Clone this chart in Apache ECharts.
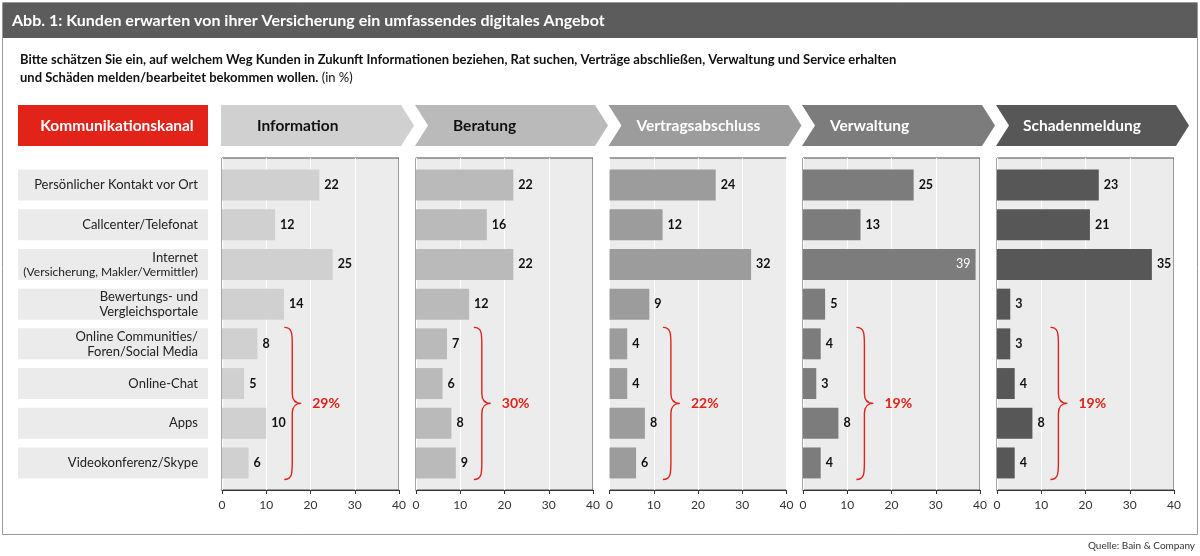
<!DOCTYPE html>
<html>
<head>
<meta charset="utf-8">
<script src="https://cdn.jsdelivr.net/npm/echarts@6/dist/echarts.min.js"></script>
<style>html,body{margin:0;padding:0;background:#fff}#c{width:1200px;height:556px}</style>
</head>
<body>
<div id="c"></div>
<script>
// ---- data ----
const categories = [
  'Persönlicher Kontakt vor Ort',
  'Callcenter/Telefonat',
  'Internet\n(Versicherung, Makler/Vermittler)',
  'Bewertungs- und\nVergleichsportale',
  'Online Communities/\nForen/Social Media',
  'Online-Chat',
  'Apps',
  'Videokonferenz/Skype'
];
const stages = ['Information', 'Beratung', 'Vertragsabschluss', 'Verwaltung', 'Schadenmeldung'];
const information = [22, 12, 25, 14, 8, 5, 10, 6];
const beratung = [22, 16, 22, 12, 7, 6, 8, 9];
const vertragsabschluss = [24, 12, 32, 9, 4, 4, 8, 6];
const verwaltung = [25, 13, 39, 5, 4, 3, 8, 4];
const schadenmeldung = [23, 21, 35, 3, 3, 4, 8, 4];
const digitalShare = [29, 30, 22, 19, 19];   // sum of the four digital channels (rows 5-8)
const headerLabel = 'Kommunikationskanal';
const titleText = 'Abb. 1: Kunden erwarten von ihrer Versicherung ein umfassendes digitales Angebot';
const subtitle1 = 'Bitte schätzen Sie ein, auf welchem Weg Kunden in Zukunft Informationen beziehen, Rat suchen, Verträge abschließen, Verwaltung und Service erhalten';
const subtitle2 = 'und Schäden melden/bearbeitet bekommen wollen.';
const subtitleUnit = '(in %)';
const sourceText = 'Quelle: Bain & Company';
const axisMin = 0, axisMax = 40, axisStep = 10;
const groupStart = 4, groupEnd = 7;

// ---- layout / style ----
const seriesValues = [information, beratung, vertragsabschluss, verwaltung, schadenmeldung];
const colors = ['#d0d0d0', '#bababa', '#9c9c9c', '#7c7c7c', '#575757'];
const headerText = ['#111', '#111', '#fff', '#fff', '#fff'];
const headerTextOffset = [35, 37, 27, 27, 26];
const red = '#e2231a';
const FONT = 'Lato';
const panelX = [222, 416, 609.5, 803, 997];
const panelW = 177;
const panelTop = 158, panelBottom = 490;
const rowTop = 165.2, rowBottom = 482.8;

const grids = [], xAxes = [], yAxes = [], series = [];

// label boxes grid (index 0)
grids.push({left: 18, width: 190, top: rowTop, height: rowBottom - rowTop});
xAxes.push({gridIndex: 0, type: 'value', min: 0, max: 1, show: false});
yAxes.push({gridIndex: 0, type: 'category', data: categories, inverse: true, show: false});
series.push({
  type: 'bar', xAxisIndex: 0, yAxisIndex: 0, barWidth: '78%', silent: true,
  data: categories.map(() => 1),
  itemStyle: {color: '#ebebeb'},
  label: {
    show: true, position: 'insideRight', distance: 10,
    formatter: (p) => {
      const lines = categories[p.dataIndex].split('\n');
      return lines.map(l => l.startsWith('(') ? '{s|' + l + '}' : '{a|' + l + '}').join('\n');
    },
    rich: {
      a: {fontFamily: FONT, fontSize: 13, color: '#222', lineHeight: 15, align: 'right'},
      s: {fontFamily: FONT, fontSize: 12, color: '#222', lineHeight: 13, align: 'right'}
    }
  }
});

stages.forEach((st, i) => {
  const gA = grids.length;
  grids.push({left: panelX[i], width: panelW, top: panelTop, height: panelBottom - panelTop,
    show: true, backgroundColor: '#ececec', borderColor: '#4a4a4a', borderWidth: 1});
  xAxes.push({gridIndex: gA, type: 'value', min: axisMin, max: axisMax, interval: axisStep,
    axisLine: {show: true, onZero: false, lineStyle: {color: '#333', width: 1}},
    axisTick: {show: true, length: 4, lineStyle: {color: '#333'}},
    splitLine: {show: true, lineStyle: {color: '#ffffff', width: 1}},
    axisLabel: {fontFamily: FONT, fontSize: 12, color: '#333', margin: 9}});
  yAxes.push({gridIndex: gA, type: 'value', show: false, min: 0, max: 1});

  const gB = grids.length;
  grids.push({left: panelX[i], width: panelW, top: rowTop, height: rowBottom - rowTop});
  xAxes.push({gridIndex: gB, type: 'value', min: axisMin, max: axisMax, show: false});
  yAxes.push({gridIndex: gB, type: 'category', data: categories, inverse: true, show: false});

  const vals = seriesValues[i];
  series.push({
    name: st, type: 'bar', xAxisIndex: gB, yAxisIndex: gB, barWidth: '78%', z: 3,
    itemStyle: {color: colors[i]},
    data: vals.map(v => v > 36
      ? {value: v, label: {position: 'insideRight', color: '#fff', fontWeight: 'normal'}}
      : v),
    label: {show: true, position: 'right', distance: 5, fontFamily: FONT,
      fontSize: 12.5, fontWeight: 'bold', color: '#111'}
  });

  const grp = vals.slice(groupStart, groupEnd + 1);
  series.push({
    type: 'custom', xAxisIndex: gB, yAxisIndex: gB, z: 4, silent: true,
    data: [[Math.max(...grp), groupStart, groupEnd, digitalShare[i]]],
    renderItem: (params, api) => {
      const vmax = api.value(0), i0 = api.value(1), i1 = api.value(2), pct = api.value(3);
      const band = api.size([0, 1])[1];
      const half = band * 0.39 + 1;
      const yTop = api.coord([0, i0])[1] - half;
      const yBot = api.coord([0, i1])[1] + half;
      const ym = (yTop + yBot) / 2;
      const x0 = api.coord([vmax, i0])[0] + 18;
      const xs = x0 + 8, xt = x0 + 17;
      const d = `M${x0},${yTop} C${xs},${yTop} ${xs},${yTop + 6} ${xs},${yTop + 18} ` +
        `L${xs},${ym - 10} C${xs},${ym - 3} ${xs + 3},${ym} ${xt},${ym} ` +
        `C${xs + 3},${ym} ${xs},${ym + 3} ${xs},${ym + 10} ` +
        `L${xs},${yBot - 18} C${xs},${yBot - 6} ${xs},${yBot} ${x0},${yBot}`;
      return {
        type: 'group',
        children: [
          {type: 'path', shape: {pathData: d}, style: {fill: null, stroke: red, lineWidth: 1.4}},
          {type: 'text', style: {x: x0 + 28, y: ym, text: pct + '%', fill: red,
            font: 'bold 14px ' + FONT, verticalAlign: 'middle', align: 'left'}}
        ]
      };
    }
  });
});

// ---- graphic: frame, title, subtitle, header row ----
const graphic = [
  {type: 'rect', shape: {x: 2.5, y: 2.5, width: 1195, height: 532}, style: {fill: null, stroke: '#9a9a9a', lineWidth: 1}, z: -10},
  {type: 'rect', shape: {x: 3, y: 3, width: 1194, height: 35}, style: {fill: '#5c5c5c'}},
  {type: 'text', x: 12, y: 21, style: {text: titleText, fill: '#fff', font: 'bold 16px ' + FONT, verticalAlign: 'middle'}},
  {type: 'text', x: 20, y: 51, style: {
    text: '{b|' + subtitle1 + '}\n{b|' + subtitle2 + '} {n|' + subtitleUnit + '}',
    rich: {
      b: {font: 'bold 13px ' + FONT, fill: '#111', lineHeight: 18},
      n: {font: '13px ' + FONT, fill: '#111', lineHeight: 18}
    }}},
  {type: 'rect', shape: {x: 18, y: 105, width: 190, height: 41}, style: {fill: red}},
  {type: 'text', x: 117, y: 125.5, style: {text: headerLabel, fill: '#fff', font: 'bold 15.5px ' + FONT, align: 'center', verticalAlign: 'middle'}},
  {type: 'text', x: 1195, y: 546, style: {text: sourceText, fill: '#333', font: '10px ' + FONT, align: 'right', verticalAlign: 'middle'}}
];
stages.forEach((st, i) => {
  const x0 = panelX[i] - 1, x1 = panelX[i] + panelW + 2, yT = 105, yB = 146, yM = 125.5;
  const pts = [[x0, yT], [x1, yT], [x1 + 13, yM], [x1, yB], [x0, yB]];
  if (i > 0) pts.push([x0 + 13, yM]);
  graphic.push({type: 'polygon', shape: {points: pts}, style: {fill: colors[i]}});
  graphic.push({type: 'text', x: panelX[i] + headerTextOffset[i], y: yM,
    style: {text: st, fill: headerText[i], font: 'bold 15.5px ' + FONT, verticalAlign: 'middle'}});
});

const chart = echarts.init(document.getElementById('c'), null, {renderer: 'canvas'});
chart.setOption({
  animation: false,
  backgroundColor: '#ffffff',
  textStyle: {fontFamily: FONT},
  grid: grids, xAxis: xAxes, yAxis: yAxes, series: series, graphic: graphic
});
</script>
</body>
</html>
